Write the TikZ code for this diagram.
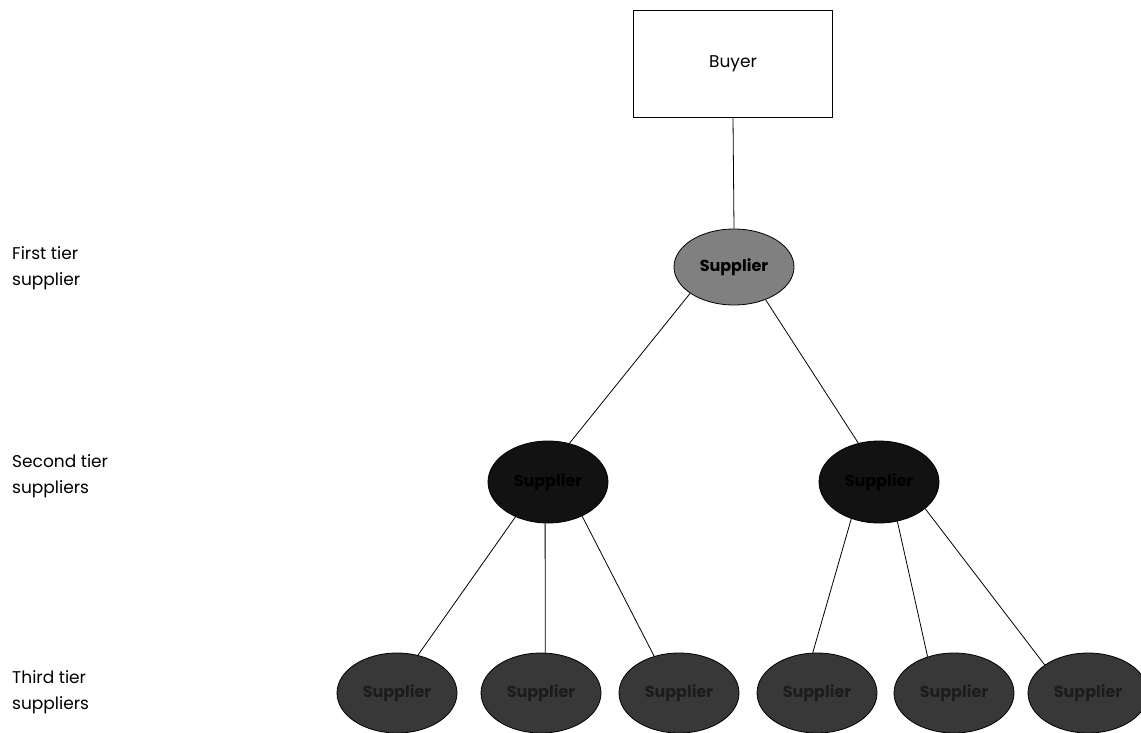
\documentclass[tikz,border=0pt]{standalone}
\usepackage{fontspec}
\setmainfont{Poppins}
\usetikzlibrary{positioning, shapes.geometric}

\definecolor{tierone}{gray}{0.50}
\definecolor{tiertwo}{gray}{0.07}
\definecolor{tierthree}{gray}{0.22}
\definecolor{tierthreetext}{gray}{0.11}

\begin{document}
\begin{tikzpicture}[
  x=1pt, y=-1pt,
  font=\fontsize{17}{26}\selectfont,
  buyerbox/.style={rectangle, draw, line width=0.9pt, minimum width=199pt, minimum height=107pt, inner sep=0pt},
  supp/.style={ellipse, draw, line width=0.8pt, minimum width=120pt, inner sep=0pt, font=\fontsize{16}{18}\selectfont\bfseries},
  tierlabel/.style={anchor=north west, align=left, inner sep=0pt},
  link/.style={line width=0.8pt}
]
  \useasboundingbox (0,0) rectangle (1141,733);

  % Buyer and first tier
  \node[buyerbox] (buyer) at (733,63.5) {Buyer};
  \node[supp, fill=tierone, minimum height=76pt] (s1) at (734,267) {Supplier};

  % Second tier
  \node[supp, fill=tiertwo, minimum height=82pt] (s2a) at (548,482) {Supplier};
  \node[supp, fill=tiertwo, minimum height=82pt] (s2b) at (879,482) {Supplier};

  % Third tier
  \tikzset{supp3/.style={supp, fill=tierthree, text=tierthreetext, minimum height=80pt}}
  \node[supp3] (s3a) at (397,693) {Supplier};
  \node[supp3] (s3b) at (541,693) {Supplier};
  \node[supp3] (s3c) at (679,693) {Supplier};
  \node[supp3] (s3d) at (817,693) {Supplier};
  \node[supp3] (s3e) at (954,693) {Supplier};
  \node[supp3] (s3f) at (1088,693) {Supplier};

  \draw[link] (buyer.south) -- (s1.north);
  \draw[link] (s1.211) -- (s2a.61);
  \draw[link] (s1.314) -- (s2b.118);

  \draw[link] (s2a.227) -- (s3a.61);
  \draw[link] (s2a.266) -- (s3b.84);
  \draw[link] (s2a.315) -- (s3c.124);

  \draw[link] (s2b.233) -- (s3d.96);
  \draw[link] (s2b.295) -- (s3e.126);
  \draw[link] (s2b.330) -- (s3f.147);

  % Tier names down the left side
  \node[tierlabel] (t1) at (12,246) {First tier\\supplier};
  \node[tierlabel] (t2) at (12,454) {Second tier\\suppliers};
  \node[tierlabel] (t3) at (12,670) {Third tier\\suppliers};
\end{tikzpicture}
\end{document}
